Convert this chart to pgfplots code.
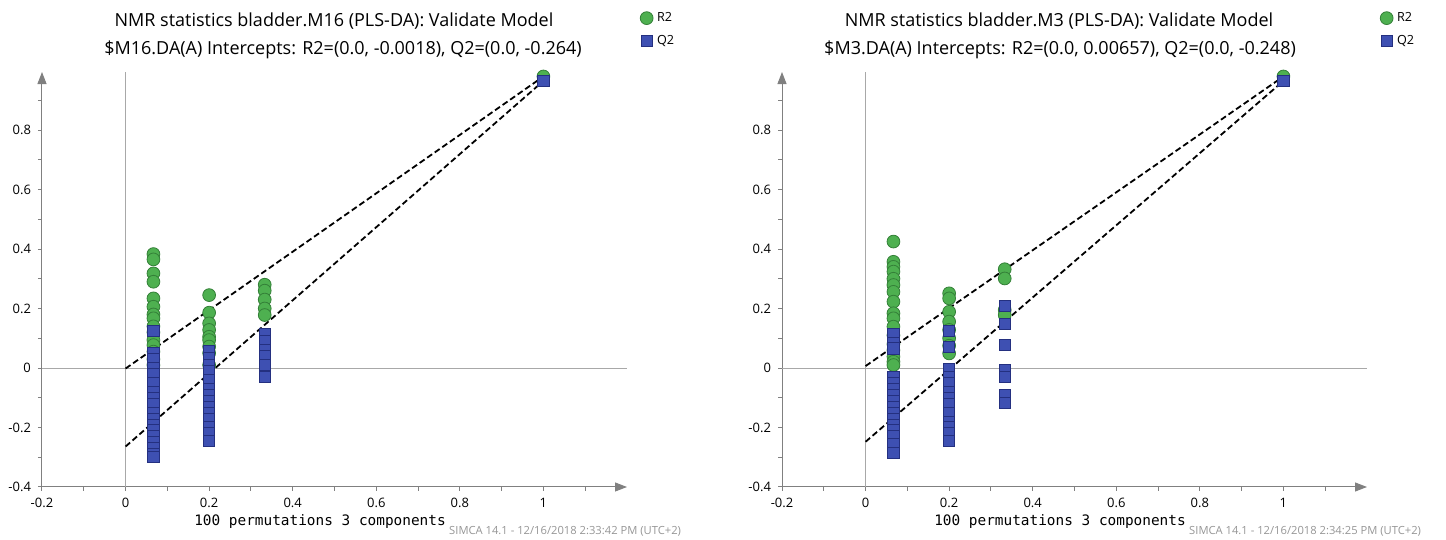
\documentclass[border=0pt]{standalone}
\usepackage{fontspec}
\setmainfont{Open Sans}
\setmonofont{DejaVu Sans Mono}
\usepackage{pgfplots}
\pgfplotsset{compat=1.18}
\usetikzlibrary{arrows.meta}

\definecolor{rgreen}{RGB}{78,176,80}
\definecolor{rgreenedge}{RGB}{52,128,56}
\definecolor{qblue}{RGB}{62,80,178}
\definecolor{qblueedge}{RGB}{36,48,128}
\definecolor{axgray}{RGB}{128,128,128}
\definecolor{zerogray}{RGB}{168,168,168}
\definecolor{footgray}{RGB}{150,150,150}

\pgfplotsset{
  simca/.style={
    scale only axis, width=292.5pt, height=207.5pt,
    xmin=-0.2, xmax=1.2, ymin=-0.4, ymax=0.995,
    axis x line=bottom, axis y line=left,
    axis line style={draw=axgray, line width=0.5pt, -{Triangle[length=6pt,width=4.5pt]}},
    xtick={-0.2,0,0.2,0.4,0.6,0.8,1},
    xticklabels={-0.2,0,0.2,0.4,0.6,0.8,1},
    ytick={-0.4,-0.2,0,0.2,0.4,0.6,0.8},
    yticklabels={-0.4,-0.2,0,0.2,0.4,0.6,0.8},
    minor xtick={-0.1,0.1,0.3,0.5,0.7,0.9,1.1},
    minor ytick={-0.3,-0.1,0.1,0.3,0.5,0.7,0.9},
    tick align=outside, major tick length=2pt, minor tick length=2pt,
    tick style={draw=axgray, line width=0.5pt},
    ticklabel style={font=\fontsize{6.5}{8}\selectfont},
    clip=false,
    legend cell align=left,
    legend style={draw=none, fill=none, inner sep=0pt, row sep=1.5pt,
      font=\fontsize{6.3}{7.5}\selectfont,
      at={(axis description cs:1.022,1.155)}, anchor=north west},
    legend image code/.code={\draw[#1] plot coordinates {(0.12cm,0cm)};},
  },
  rmark/.style={only marks, mark=*, mark size=3.2pt,
    mark options={fill=rgreen, draw=rgreenedge, line width=0.4pt}},
  qmark/.style={only marks, mark=square*, mark size=2.8pt,
    mark options={fill=qblue, draw=qblueedge, line width=0.4pt}},
  dline/.style={black, line width=0.9pt, dash pattern=on 3pt off 1.6pt, forget plot},
}

\begin{document}
\begin{tikzpicture}
\path[use as bounding box] (0,0) rectangle (723pt,270pt);

% ---- left panel: M16
\begin{axis}[simca, at={(21pt,26.5pt)}, anchor=south west]
  \draw[zerogray, line width=0.5pt] (axis cs:0,-0.4) -- (axis cs:0,0.995);
  \draw[zerogray, line width=0.5pt] (axis cs:-0.2,0) -- (axis cs:1.2,0);
  \addplot[rmark] coordinates {
    (0.0667,0.383) (0.0667,0.365) (0.0667,0.318) (0.0667,0.29) (0.0667,0.234)
    (0.0667,0.206) (0.0667,0.18) (0.0667,0.167) (0.0667,0.14) (0.0667,0.12)
    (0.0667,0.094) (0.0667,0.077) (0.0667,0.055) (0.0667,0.03) (0.0667,0.01)
    (0.2,0.245) (0.2,0.186) (0.2,0.15) (0.2,0.128) (0.2,0.105) (0.2,0.094)
    (0.2,0.072) (0.2,0.05) (0.2,0.01)
    (0.333,0.28) (0.333,0.26) (0.333,0.23) (0.333,0.2) (0.333,0.178)
    (1,0.98)
  };
  \addlegendentry{R2}
  \addplot[qmark] coordinates {
    (0.0667,0.125) (0.0667,0.051) (0.0667,0.03) (0.0667,0.0) (0.0667,-0.02)
    (0.0667,-0.05) (0.0667,-0.08) (0.0667,-0.1) (0.0667,-0.12) (0.0667,-0.15)
    (0.0667,-0.17) (0.0667,-0.19) (0.0667,-0.21) (0.0667,-0.23) (0.0667,-0.25)
    (0.0667,-0.27) (0.0667,-0.29) (0.0667,-0.30)
    (0.2,0.057) (0.2,0.035) (0.2,0.01) (0.2,-0.01) (0.2,-0.04) (0.2,-0.07)
    (0.2,-0.09) (0.2,-0.11) (0.2,-0.13) (0.2,-0.15) (0.2,-0.17) (0.2,-0.2)
    (0.2,-0.22) (0.2,-0.245)
    (0.333,0.115) (0.333,0.09) (0.333,0.06) (0.333,0.04) (0.333,0.01) (0.333,-0.03)
    (1,0.965)
  };
  \addlegendentry{Q2}
  \addplot[dline] coordinates {(0,-0.0018) (1,0.98)};
  \addplot[dline] coordinates {(0,-0.264) (1,0.965)};
\end{axis}

% ---- right panel: M3
\begin{axis}[simca, at={(391pt,26.5pt)}, anchor=south west]
  \draw[zerogray, line width=0.5pt] (axis cs:0,-0.4) -- (axis cs:0,0.995);
  \draw[zerogray, line width=0.5pt] (axis cs:-0.2,0) -- (axis cs:1.2,0);
  \addplot[rmark] coordinates {
    (0.0667,0.425) (0.0667,0.357) (0.0667,0.34) (0.0667,0.324) (0.0667,0.3)
    (0.0667,0.279) (0.0667,0.256) (0.0667,0.223) (0.0667,0.184) (0.0667,0.167)
    (0.0667,0.139) (0.0667,0.11) (0.0667,0.08) (0.0667,0.06) (0.0667,0.038)
    (0.0667,0.021) (0.0667,0.01)
    (0.2,0.251) (0.2,0.234) (0.2,0.189) (0.2,0.156) (0.2,0.128) (0.2,0.1)
    (0.2,0.075) (0.2,0.049)
    (0.333,0.332) (0.333,0.301) (0.333,0.195) (0.333,0.178)
    (1,0.98)
  };
  \addlegendentry{R2}
  \addplot[qmark] coordinates {
    (0.0667,0.114) (0.0667,0.083) (0.0667,0.066) (0.0667,-0.03) (0.0667,-0.05)
    (0.0667,-0.07) (0.0667,-0.09) (0.0667,-0.11) (0.0667,-0.13) (0.0667,-0.15)
    (0.0667,-0.17) (0.0667,-0.19) (0.0667,-0.21) (0.0667,-0.23) (0.0667,-0.255)
    (0.0667,-0.285)
    (0.2,0.125) (0.2,0.07) (0.2,-0.005) (0.2,-0.03) (0.2,-0.05) (0.2,-0.08)
    (0.2,-0.1) (0.2,-0.12) (0.2,-0.15) (0.2,-0.18) (0.2,-0.2) (0.2,-0.22)
    (0.2,-0.245)
    (0.333,0.208) (0.333,0.148) (0.333,0.077) (0.333,-0.006) (0.333,-0.029)
    (0.333,-0.09) (0.333,-0.116)
    (1,0.965)
  };
  \addlegendentry{Q2}
  \addplot[dline] coordinates {(0,0.00657) (1,0.98)};
  \addplot[dline] coordinates {(0,-0.248) (1,0.965)};
\end{axis}

% titles, x labels, footers
\node[anchor=base, font=\fontsize{9}{11}\selectfont] at (167pt,256.5pt)
  {NMR statistics bladder.M16 (PLS-DA): Validate Model};
\node[anchor=base, font=\fontsize{9}{11}\selectfont] at (171.5pt,242.5pt)
  {\$M16.DA(A) Intercepts: R2=(0.0, -0.0018), Q2=(0.0, -0.264)};
\node[anchor=base, font=\fontsize{9}{11}\selectfont] at (529.5pt,256.5pt)
  {NMR statistics bladder.M3 (PLS-DA): Validate Model};
\node[anchor=base, font=\fontsize{9}{11}\selectfont] at (530pt,242.5pt)
  {\$M3.DA(A) Intercepts: R2=(0.0, 0.00657), Q2=(0.0, -0.248)};

\node[anchor=base, font=\ttfamily\fontsize{7.2}{8}\selectfont] at (160pt,7pt)
  {100 permutations 3 components};
\node[anchor=base, font=\ttfamily\fontsize{7.2}{8}\selectfont] at (530pt,7pt)
  {100 permutations 3 components};

\node[anchor=base east, text=footgray, font=\fontsize{5.6}{7}\selectfont] at (344pt,2.5pt)
  {SIMCA 14.1 - 12/16/2018 2:33:42 PM (UTC+2)};
\node[anchor=base east, text=footgray, font=\fontsize{5.6}{7}\selectfont] at (714pt,2.5pt)
  {SIMCA 14.1 - 12/16/2018 2:34:25 PM (UTC+2)};
\end{tikzpicture}
\end{document}
